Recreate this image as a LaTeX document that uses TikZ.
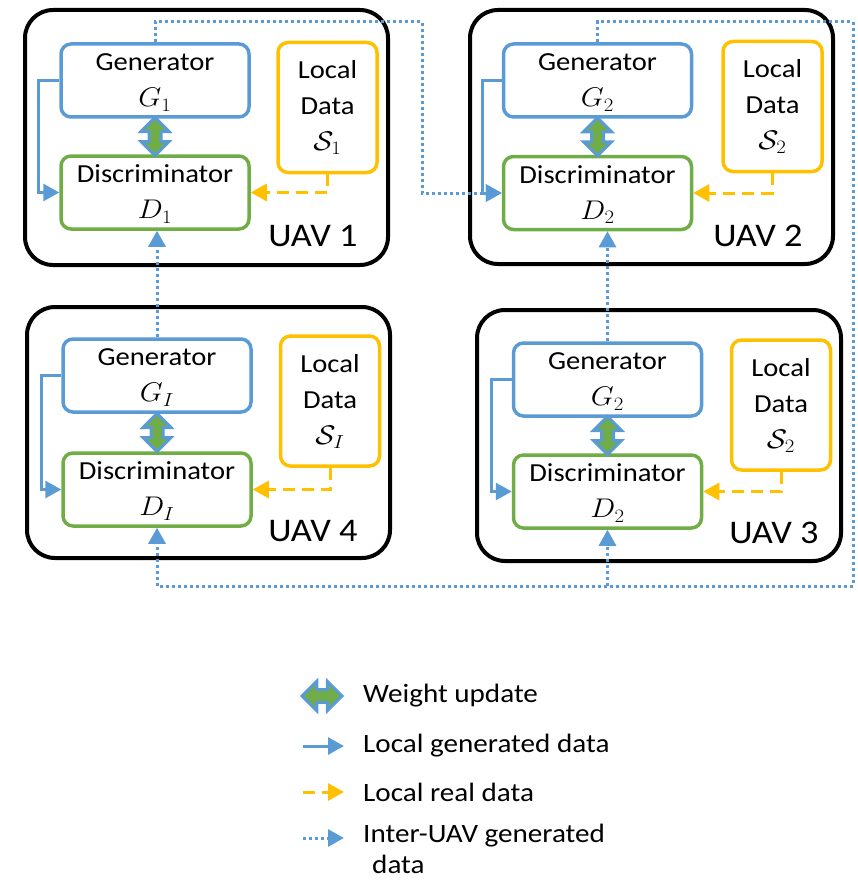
\RequirePackage{fix-cm}
\documentclass[tikz,border=0pt]{standalone}
\usepackage{fontspec}
\setmainfont{Carlito}[FakeStretch=1.1]
\usetikzlibrary{arrows.meta,calc}
\definecolor{oblue}{RGB}{91,155,213}
\definecolor{ogreen}{RGB}{112,173,71}
\definecolor{oyellow}{RGB}{255,192,0}
\newcommand\bxfont{\fontsize{26}{36}\selectfont}
\newcommand\mth[1]{\scalebox{1.1}[1]{\fontsize{27}{36}\selectfont$#1$}}
\newcommand\topstrut{\rule{0pt}{21pt}}
\begin{document}
\begin{tikzpicture}[x=1pt,y=-1pt,
  uavbox/.style={draw=black,line width=4pt,rounded corners=28pt,inner sep=0pt},
  genbox/.style={draw=oblue,line width=3.5pt,rounded corners=10pt,minimum width=188pt,minimum height=73pt,align=center,font=\bxfont,inner sep=0pt},
  disbox/.style={genbox,draw=ogreen},
  ldbox/.style={genbox,draw=oyellow,minimum width=99pt,minimum height=130pt},
  uavlabel/.style={font=\fontsize{33}{40}\selectfont,inner sep=0pt},
  legtext/.style={font=\fontsize{26.5}{31}\selectfont,anchor=west,inner sep=0pt,align=left},
  tip/.style={-{Triangle[length=16pt,width=17pt]}},
  locarrow/.style={draw=oblue,line width=3pt,tip},
  realarrow/.style={draw=oyellow,line width=3pt,dash pattern=on 12pt off 7pt,tip},
  inter/.style={draw=oblue,line width=3pt,dash pattern=on 3pt off 3pt,tip},
  pics/wupd/.style={code={
    \draw[draw=oblue,fill=ogreen,line width=3pt,line join=miter]
      (0,-19) -- (14,-5) -- (6,-5) -- (6,5) -- (14,5) -- (0,19) -- (-14,5) -- (-6,5) -- (-6,-5) -- (-14,-5) -- cycle;}}
]
\useasboundingbox (0,0) rectangle (858,880);

% ---------- UAV 1 ----------
\node[uavbox,minimum width=363pt,minimum height=255pt] (U1) at (206.5,137.5) {};
\node[genbox] (G1) at (155,80.5) {\topstrut Generator\\\mth{G_1}};
\node[disbox] (D1) at (155,192.5) {\topstrut Discriminator\\\mth{D_1}};
\node[ldbox] (L1) at (327.5,107.5) {Local\\Data\\\mth{\mathcal{S}_1}};
\node[uavlabel] (N1) at (313,236) {UAV 1};

% ---------- UAV 2 ----------
\node[uavbox,minimum width=363pt,minimum height=254pt] (U2) at (651.5,137) {};
\node[genbox] (G2) at (597.5,80.5) {\topstrut Generator\\\mth{G_2}};
\node[disbox] (D2) at (597.5,193) {\topstrut Discriminator\\\mth{D_2}};
\node[ldbox] (L2) at (772.5,106.5) {Local\\Data\\\mth{\mathcal{S}_2}};
\node[uavlabel] (N2) at (758,236) {UAV 2};

% ---------- UAV 4 ----------
\node[uavbox,minimum width=363pt,minimum height=251pt] (U4) at (208.5,432.5) {};
\node[genbox] (GI) at (157,375.5) {\topstrut Generator\\\mth{G_I}};
\node[disbox] (DI) at (157,489.5) {\topstrut Discriminator\\\mth{D_I}};
\node[ldbox] (LI) at (330,401) {Local\\Data\\\mth{\mathcal{S}_I}};
\node[uavlabel] (N4) at (313,531) {UAV 4};

% ---------- UAV 3 ----------
\node[uavbox,minimum width=364pt,minimum height=251pt] (U3) at (659,435.5) {};
\node[genbox] (G3) at (607.5,379.5) {\topstrut Generator\\\mth{G_2}};
\node[disbox] (D3) at (607.5,491.5) {\topstrut Discriminator\\\mth{D_2}};
\node[ldbox] (L3) at (781,405) {Local\\Data\\\mth{\mathcal{S}_2}};
\node[uavlabel] (N3) at (774,533) {UAV 3};

% ---------- weight updates ----------
\pic at ($(G1.south)!0.5!(D1.north)$) {wupd};
\pic at ($(G2.south)!0.5!(D2.north)$) {wupd};
\pic at ($(GI.south)!0.5!(DI.north)$) {wupd};
\pic at ($(G3.south)!0.5!(D3.north)$) {wupd};

% ---------- local generated data ----------
\draw[locarrow] (G1.west) -- ++(-21,0) |- (D1.west);
\draw[locarrow] (G2.west) -- ++(-19,0) |- (D2.west);
\draw[locarrow] (GI.west) -- ++(-20,0) |- (DI.west);
\draw[locarrow] (G3.west) -- ++(-20,0) |- (D3.west);

% ---------- local real data ----------
\draw[realarrow] (L1.south) |- (D1.east);
\draw[realarrow] (L2.south) |- (D2.east);
\draw[realarrow] (LI.south) |- (DI.east);
\draw[realarrow] (L3.south) |- (D3.east);

% ---------- inter-UAV generated data ----------
\coordinate (t1) at (422,22);
\coordinate (t2) at (853,22);
\coordinate (b2) at (853,586);
\draw[inter] (G1.north) |- (t1) |- (D2.west);
\draw[inter] (G2.north) |- (t2) -- (b2) -| (DI.south);
\coordinate (j3) at (D3.south |- b2);
\draw[inter] (j3) -- (D3.south);
\draw[inter] (GI.north) -- (GI.north |- D1.south);
\draw[inter] (G3.north) -- (G3.north |- D2.south);

% ---------- legend ----------
\pic[rotate=90,scale=1.05] at (322,696) {wupd};
\node[legtext] (T1) at (363,696) {Weight update};
\coordinate (a2) at (303,746);
\coordinate (b2l) at (344,746);
\draw[locarrow] (a2) -- (b2l);
\node[legtext] (T2) at (363,746) {Local generated data};
\coordinate (a3) at (303,792);
\coordinate (b3) at (344,792);
\draw[realarrow] (a3) -- (b3);
\node[legtext] (T3) at (363,792) {Local real data};
\coordinate (a4) at (303,838);
\coordinate (b4) at (344,838);
\draw[inter] (a4) -- (b4);
\node[legtext,anchor=north west] (T4) at (363,824) {Inter-UAV generated\\\hspace{9pt}data};
\end{tikzpicture}
\end{document}
